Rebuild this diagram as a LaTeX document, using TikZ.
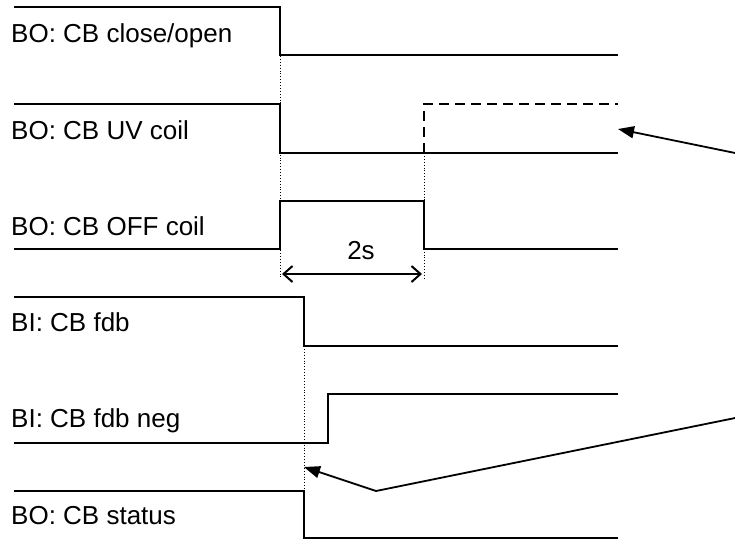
\documentclass[tikz,border=0pt]{standalone}
\usepackage{fontspec}
\setmainfont{Liberation Sans}
\usetikzlibrary{arrows.meta}
\begin{document}
\begin{tikzpicture}[x=1pt,y=-1pt,
  sig/.style={line width=2pt, line join=miter},
  guide/.style={line width=0.9pt, dotted},
  lbl/.style={anchor=base west, inner sep=0pt, font=\fontsize{26}{30}\selectfont},
  callout/.style={line width=1.8pt, -{Triangle[length=16pt,width=12pt]}}]
\useasboundingbox (0,0) rectangle (735,541);
% labels
\node[lbl] (l1) at (11,42) {BO: CB close/open};
\node[lbl] (l2) at (11,139) {BO: CB UV coil};
\node[lbl] (l3) at (11,235) {BO: CB OFF coil};
\node[lbl] (l4) at (11,331) {BI: CB fdb};
\node[lbl] (l5) at (11,427) {BI: CB fdb neg};
\node[lbl] (l6) at (11,524) {BO: CB status};
% signals
\draw[sig] (14,7) -- (280,7) -- (280,55) -- (618,55);
\draw[sig] (14,104) -- (280,104) -- (280,153) -- (618,153);
\draw[sig, dash pattern=on 10pt off 6pt] (424,153) -- (424,104) -- (618,104);
\draw[sig] (14,249) -- (280,249) -- (280,201) -- (424,201) -- (424,249) -- (618,249);
\draw[sig] (14,297) -- (304,297) -- (304,346) -- (618,346);
\draw[sig] (14,443) -- (328,443) -- (328,394) -- (618,394);
\draw[sig] (14,491) -- (304,491) -- (304,538) -- (618,538);
% guides
\coordinate (ga) at (280,56);
\coordinate (gb) at (280,278);
\coordinate (gc) at (424,153);
\coordinate (gd) at (424,278);
\coordinate (ge) at (304,346);
\coordinate (gf) at (304,491);
\draw[guide] (ga) -- (gb);
\draw[guide] (gc) -- (gd);
\draw[guide] (ge) -- (gf);
% 2s dimension
\coordinate (dl) at (282,274);
\coordinate (dr) at (422,274);
\draw[line width=2pt, {Straight Barb[length=9pt,width=16pt]}-{Straight Barb[length=9pt,width=16pt]}] (dl) -- (dr);
\node[anchor=base, inner sep=0pt, font=\fontsize{26}{30}\selectfont] (ts) at (361,259) {2s};
% callout arrows
\coordinate (c1s) at (740,154);
\coordinate (c1e) at (618,129);
\draw[callout] (c1s) -- (c1e);
\coordinate (c2s) at (740,417);
\coordinate (c2k) at (376,491);
\coordinate (c2e) at (304,467);
\draw[line width=1.8pt, line join=miter] (c2s) -- (c2k);
\draw[callout] (c2k) -- (c2e);
\end{tikzpicture}
\end{document}
